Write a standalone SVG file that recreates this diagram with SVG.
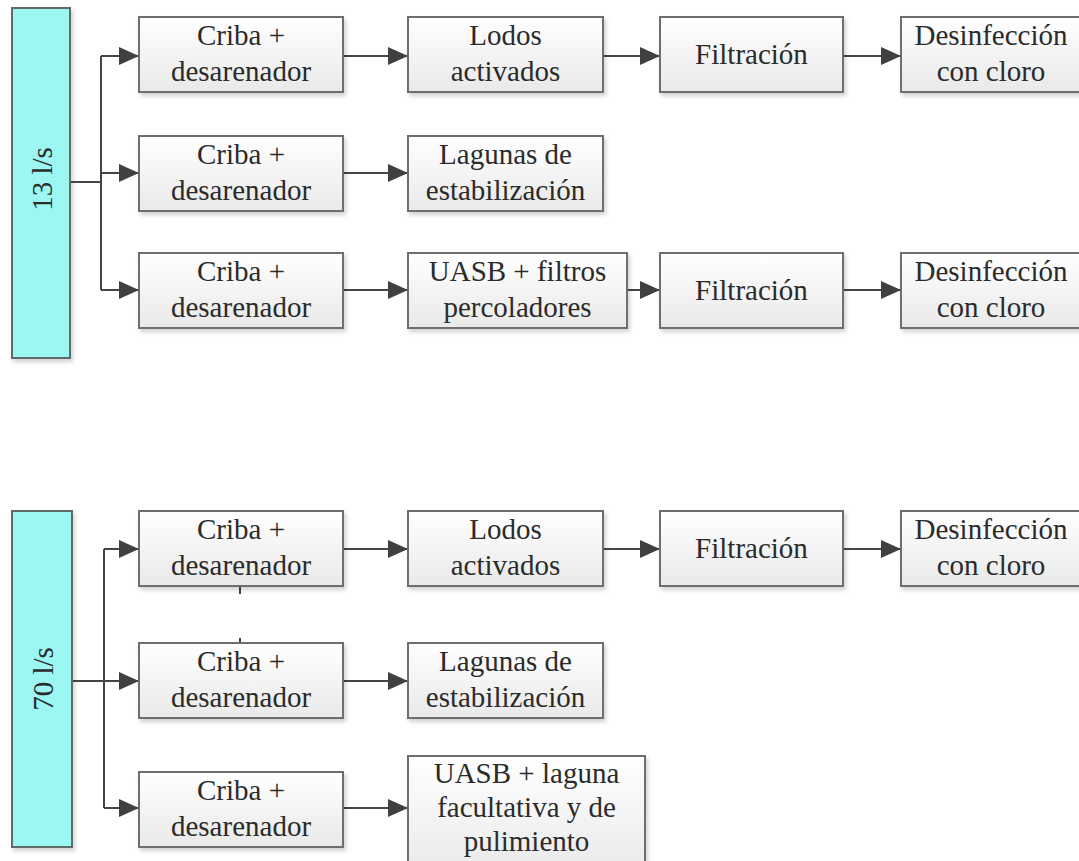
<svg xmlns="http://www.w3.org/2000/svg" width="1079" height="861" viewBox="0 0 1079 861">
<defs>
<linearGradient id="g" x1="0" y1="0" x2="0" y2="1">
<stop offset="0" stop-color="#ffffff"/>
<stop offset="1" stop-color="#e9e9e9"/>
</linearGradient>
<filter id="sh" x="-10%" y="-10%" width="130%" height="130%">
<feDropShadow dx="2" dy="3" stdDeviation="2" flood-color="#000" flood-opacity="0.18"/>
</filter>
<marker id="ar" viewBox="0 0 20 18" refX="20" refY="9" markerWidth="20" markerHeight="18" markerUnits="userSpaceOnUse" orient="auto">
<path d="M0,0 L20,9 L0,18 z" fill="#404040"/>
</marker>
<style>
.box{fill:url(#g);stroke:#6e6e6e;stroke-width:2;filter:url(#sh)}
.bar{fill:#9cf7f2;stroke:#5f6b6b;stroke-width:2;filter:url(#sh)}
.t{font-family:"Liberation Serif","Times New Roman",serif;font-size:29px;fill:#2b2b2b;text-anchor:middle}
.c{stroke:#454545;stroke-width:2;fill:none}
.a{marker-end:url(#ar)}
</style>
</defs>
<rect width="1079" height="861" fill="#ffffff"/>

<g id="connectors">
<path class="c" d="M70,182 H101 M101,56 V290"/>
<path class="c a" d="M101,56 H139"/>
<path class="c a" d="M101,173 H139"/>
<path class="c a" d="M101,290 H139"/>
<path class="c a" d="M343,56 H408"/>
<path class="c a" d="M603,56 H660"/>
<path class="c a" d="M843,56 H901"/>
<path class="c a" d="M343,173 H408"/>
<path class="c a" d="M343,290 H408"/>
<path class="c a" d="M627,290 H660"/>
<path class="c a" d="M843,290 H901"/>

<path class="c" d="M104,549 V808"/>
<path class="c a" d="M72,681 H139"/>
<path class="c a" d="M104,549 H139"/>
<path class="c a" d="M104,808 H139"/>
<path class="c a" d="M343,549 H408"/>
<path class="c a" d="M603,549 H660"/>
<path class="c a" d="M843,549 H901"/>
<path class="c a" d="M343,681 H408"/>
<path class="c a" d="M343,808 H408"/>
<path class="c" d="M240,586 V594 M240,638 V643" stroke="#222"/>
</g>

<g id="q13">
<rect class="bar" x="12" y="8" width="58" height="350"/>
<text class="t" transform="translate(52,179) rotate(-90)">13 l/s</text>
</g>
<g id="t1-criba"><rect class="box" x="139" y="17" width="204" height="75"/><text class="t" x="241" y="45">Criba +</text><text class="t" x="241" y="81">desarenador</text></g>
<g id="t1-lodos"><rect class="box" x="408" y="17" width="195" height="75"/><text class="t" x="505.5" y="45">Lodos</text><text class="t" x="505.5" y="81">activados</text></g>
<g id="t1-filt"><rect class="box" x="660" y="17" width="183" height="75"/><text class="t" x="751.5" y="64">Filtración</text></g>
<g id="t1-desinf"><rect class="box" x="901" y="17" width="184" height="75"/><text class="t" x="991" y="45">Desinfección</text><text class="t" x="991" y="81">con cloro</text></g>

<g id="t2-criba"><rect class="box" x="139" y="136" width="204" height="75"/><text class="t" x="241" y="164">Criba +</text><text class="t" x="241" y="200">desarenador</text></g>
<g id="t2-lagunas"><rect class="box" x="408" y="136" width="195" height="75"/><text class="t" x="505.5" y="164">Lagunas de</text><text class="t" x="505.5" y="200">estabilización</text></g>

<g id="t3-criba"><rect class="box" x="139" y="253" width="204" height="75"/><text class="t" x="241" y="281">Criba +</text><text class="t" x="241" y="317">desarenador</text></g>
<g id="t3-uasb"><rect class="box" x="408" y="253" width="219" height="75"/><text class="t" x="517.5" y="281">UASB + filtros</text><text class="t" x="517.5" y="317">percoladores</text></g>
<g id="t3-filt"><rect class="box" x="660" y="253" width="183" height="75"/><text class="t" x="751.5" y="300">Filtración</text></g>
<g id="t3-desinf"><rect class="box" x="901" y="253" width="184" height="75"/><text class="t" x="991" y="281">Desinfección</text><text class="t" x="991" y="317">con cloro</text></g>

<g id="q70">
<rect class="bar" x="12" y="511" width="60" height="336"/>
<text class="t" transform="translate(53,679) rotate(-90)">70 l/s</text>
</g>
<g id="b1-criba"><rect class="box" x="139" y="511" width="204" height="75"/><text class="t" x="241" y="539">Criba +</text><text class="t" x="241" y="575">desarenador</text></g>
<g id="b1-lodos"><rect class="box" x="408" y="511" width="195" height="75"/><text class="t" x="505.5" y="539">Lodos</text><text class="t" x="505.5" y="575">activados</text></g>
<g id="b1-filt"><rect class="box" x="660" y="511" width="183" height="75"/><text class="t" x="751.5" y="558">Filtración</text></g>
<g id="b1-desinf"><rect class="box" x="901" y="511" width="184" height="75"/><text class="t" x="991" y="539">Desinfección</text><text class="t" x="991" y="575">con cloro</text></g>

<g id="b2-criba"><rect class="box" x="139" y="643" width="204" height="75"/><text class="t" x="241" y="671">Criba +</text><text class="t" x="241" y="707">desarenador</text></g>
<g id="b2-lagunas"><rect class="box" x="408" y="643" width="195" height="75"/><text class="t" x="505.5" y="671">Lagunas de</text><text class="t" x="505.5" y="707">estabilización</text></g>

<g id="b3-criba"><rect class="box" x="139" y="772" width="204" height="75"/><text class="t" x="241" y="800">Criba +</text><text class="t" x="241" y="836">desarenador</text></g>
<g id="b3-uasb"><rect class="box" x="408" y="756" width="237" height="120"/><text class="t" x="526.5" y="783">UASB + laguna</text><text class="t" x="526.5" y="817">facultativa y de</text><text class="t" x="526.5" y="851">pulimiento</text></g>
</svg>
